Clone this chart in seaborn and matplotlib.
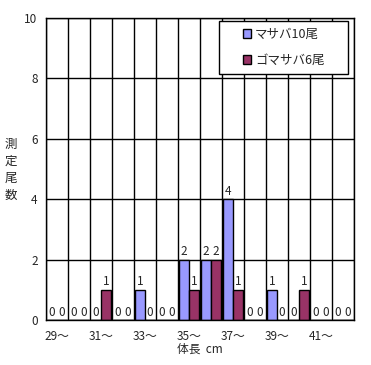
import pandas as pd
import seaborn as sns
import matplotlib.pyplot as plt
from matplotlib.patches import Rectangle

# Data
lengths = ['29〜', '30〜', '31〜', '32〜', '33〜', '34〜', '35〜',
           '36〜', '37〜', '38〜', '39〜', '40〜', '41〜', '42〜']
masaba = [0, 0, 0, 0, 1, 0, 2, 2, 4, 0, 1, 0, 0, 0]
gomasaba = [0, 0, 1, 0, 0, 0, 1, 2, 1, 0, 0, 1, 0, 0]
series_names = ['マサバ10尾', 'ゴマサバ6尾']
ylabel_chars = ['測', '定', '尾', '数']

df = pd.DataFrame({
    'length': lengths * 2,
    'count': masaba + gomasaba,
    'species': [series_names[0]] * len(lengths) + [series_names[1]] * len(lengths),
})

sns.set_style('white')
plt.rcParams['font.family'] = ['Noto Sans CJK JP', 'DejaVu Sans']
fs = 8.5

fig = plt.figure(figsize=(3.71, 3.65), dpi=100)
ax = fig.add_axes([46 / 371, 45 / 365, 308 / 371, 302 / 365])

sns.barplot(data=df, x='length', y='count', hue='species', ax=ax,
            palette=['#9999FF', '#993366'], width=0.9,
            edgecolor='black', linewidth=1, saturation=1)

for c in ax.containers:
    ax.bar_label(c, fmt='%d', fontsize=fs, padding=1)

ax.set_ylim(0, 10)
ax.set_yticks(range(0, 11, 2))
ax.set_xlim(-0.5, len(lengths) - 0.5)
ax.set_xticks(range(0, len(lengths), 2))
ax.set_xticklabels(lengths[::2], fontsize=fs)
ax.tick_params(axis='y', labelsize=fs, length=0, pad=6)
ax.tick_params(axis='x', length=0, pad=7)

# Grid: vertical lines between categories, horizontal at ticks
for i in range(len(lengths) + 1):
    ax.axvline(i - 0.5, color='black', linewidth=1, zorder=0)
for v in range(0, 11, 2):
    ax.axhline(v, color='black', linewidth=1, zorder=0)
for s in ax.spines.values():
    s.set_color('black')
    s.set_linewidth(1)

ax.set_xlabel('体長  cm', fontsize=fs, labelpad=0)
ax.set_ylabel('')
for k, ch in enumerate(ylabel_chars):
    fig.text(11 / 371, 1 - (144 + 17 * k) / 365, ch, fontsize=9,
             ha='center', va='center')

# Legend with its own frame box
box = (0.562, 0.815, 0.419, 0.175)
ax.add_patch(Rectangle(box[:2], box[2], box[3], transform=ax.transAxes,
                       facecolor='white', edgecolor='black', linewidth=1,
                       zorder=4.5, clip_on=False))
leg = ax.legend(loc='center', bbox_to_anchor=box, fontsize=9,
                frameon=False, handlelength=0.7, handleheight=0.7,
                handletextpad=0.3, labelspacing=1.0, borderpad=0,
                borderaxespad=0)
for h in leg.legend_handles:
    h.set_edgecolor('black')

fig.savefig('out.png', dpi=100)
